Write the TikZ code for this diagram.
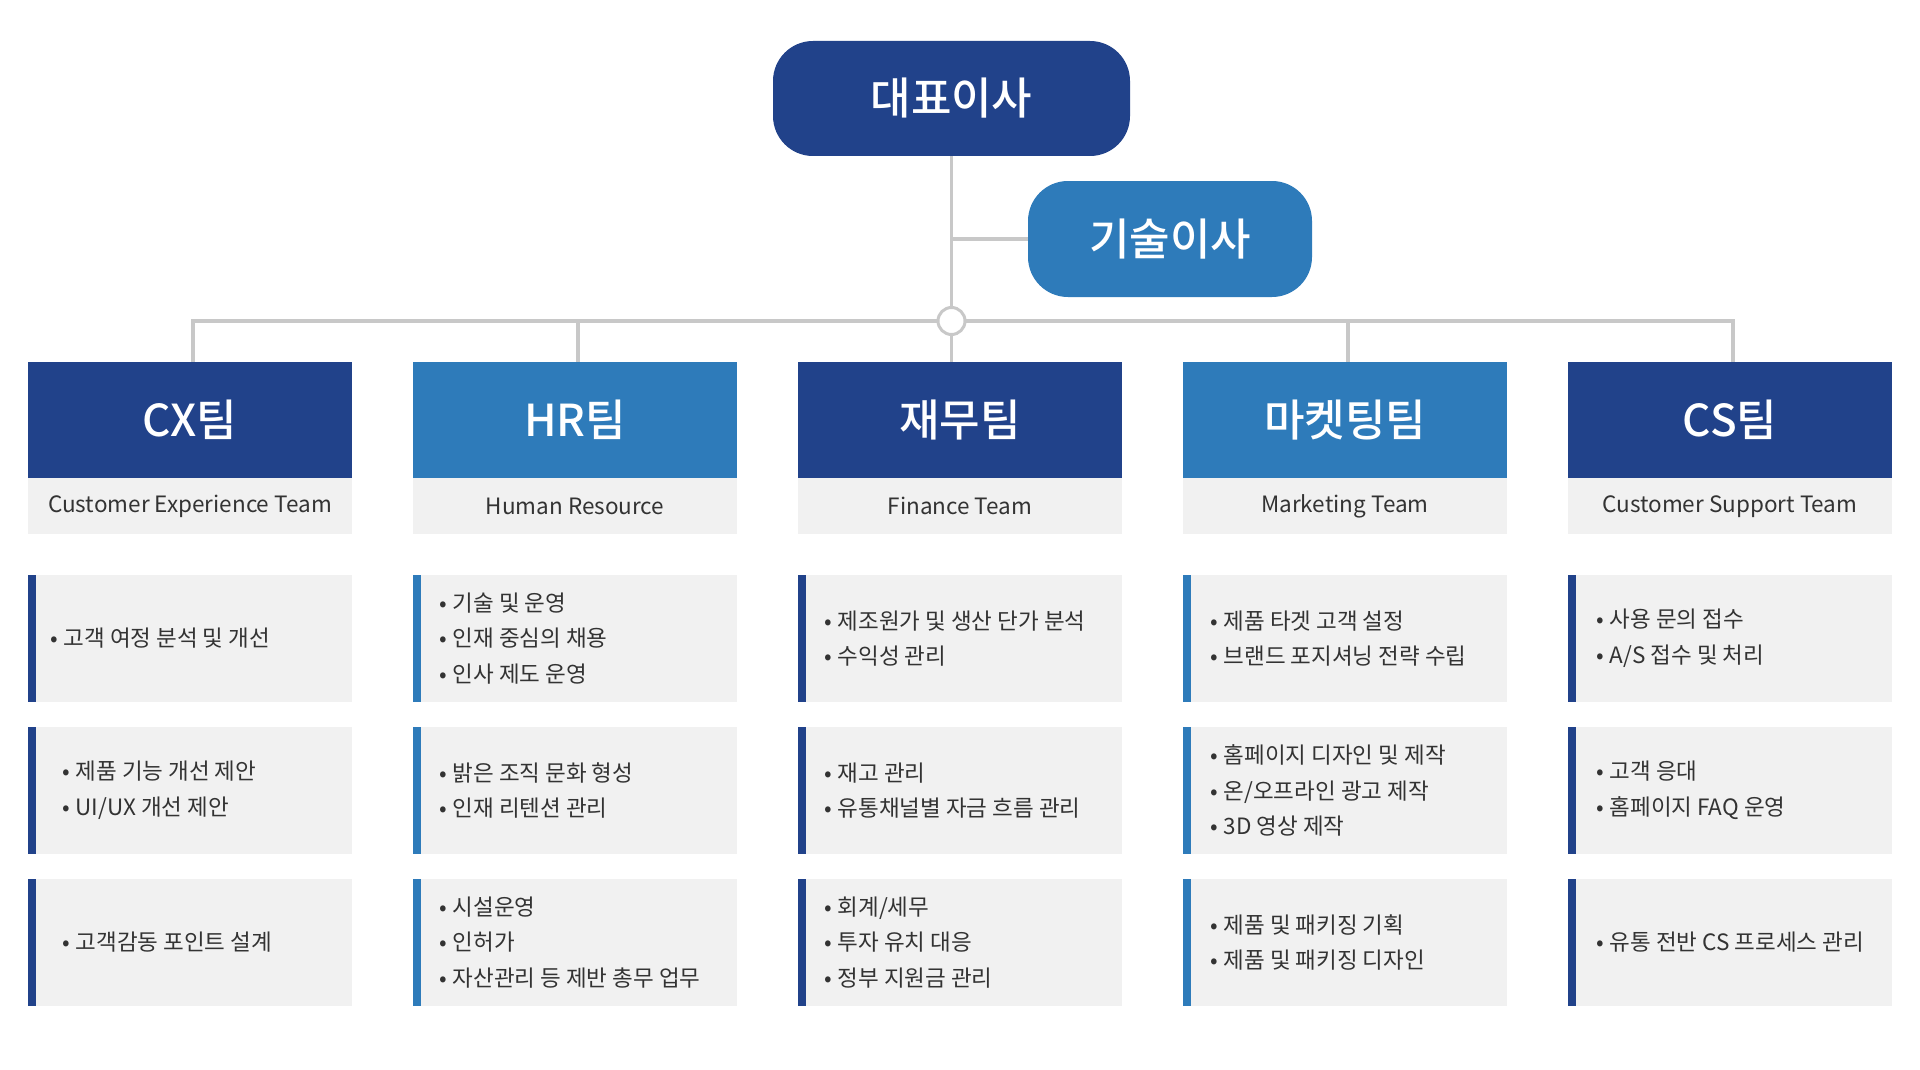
\documentclass[tikz,border=0pt]{standalone}
\usepackage{fontspec}
\setmainfont{Noto Sans CJK KR}
\newfontfamily\titlefont{Noto Sans CJK KR Medium}
\usepackage{xcolor}
\usepackage{tikz}
\definecolor{darkblue}{HTML}{21428A}
\definecolor{midblue}{HTML}{2E7BBA}
\definecolor{linegray}{HTML}{C8C8C8}
\definecolor{boxgray}{HTML}{F1F1F1}
\definecolor{textdark}{HTML}{333333}
\newcommand{\bul}{•\hspace{6pt}}
\tikzset{
head/.style={
  rectangle,
  rounded corners=40pt,
  inner sep=0pt,
  text=white,
  font=\titlefont\fontsize{44pt}{50pt}\selectfont
},
team/.style={
  rectangle,
  inner sep=0pt,
  minimum width=324pt,
  minimum height=116pt,
  text=white,
  font=\titlefont\fontsize{44pt}{50pt}\selectfont
},
teamsub/.style={
  rectangle,
  inner sep=0pt,
  fill=boxgray,
  minimum width=324pt,
  minimum height=56pt,
  text=textdark,
  font=\fontsize{22.5pt}{28pt}\selectfont
},
task/.style={rectangle, inner sep=0pt, fill=boxgray, minimum width=324pt, minimum height=127pt},
item/.style={
  anchor=west,
  inner sep=0pt,
  align=left,
  text=textdark,
  font=\fontsize{22.5pt}{35.7pt}\selectfont
},
link/.style={draw=linegray, line width=3.5pt},
hubdot/.style={circle, draw=linegray, line width=3pt, fill=white, minimum size=27pt, inner sep=0pt},
}

\begin{document}
\begin{tikzpicture}[x=1pt,y=-1pt]
\useasboundingbox (0,0) rectangle (1920,1070);
% the directors
\node[head, fill=darkblue, minimum width=357pt, minimum height=115pt] (ceo) at (951.5,98.5) {대표이사};
\node[head, fill=midblue, minimum width=284pt, minimum height=116pt] (cto) at (1170,239) {기술이사};
% the teams
\foreach \i/\tname/\tsub/\tcol in {
  1/CX팀/Customer Experience Team/darkblue,
  2/HR팀/Human Resource/midblue,
  3/재무팀/Finance Team/darkblue,
  4/마켓팅팀/Marketing Team/midblue,
  5/CS팀/Customer Support Team/darkblue}
{
  \node[team, fill=\tcol] (team-\i) at ({190+385*(\i-1)},420) {\tname};
  \node[teamsub, anchor=north] (sub-\i) at (team-\i.south) {\tsub};
}
% the task boxes
\foreach \i/\r/\tcol/\ind/\txt in {
  1/1/darkblue/22/{\bul 고객 여정 분석 및 개선},
  1/2/darkblue/34/{\bul 제품 기능 개선 제안\\\bul UI/UX 개선 제안},
  1/3/darkblue/34/{\bul 고객감동 포인트 설계},
  2/1/midblue/26/{\bul 기술 및 운영\\\bul 인재 중심의 채용\\\bul 인사 제도 운영},
  2/2/midblue/26/{\bul 밝은 조직 문화 형성\\\bul 인재 리텐션 관리},
  2/3/midblue/26/{\bul 시설운영\\\bul 인허가\\\bul 자산관리 등 제반 총무 업무},
  3/1/darkblue/26/{\bul 제조원가 및 생산 단가 분석\\\bul 수익성 관리},
  3/2/darkblue/26/{\bul 재고 관리\\\bul 유통채널별 자금 흐름 관리},
  3/3/darkblue/26/{\bul 회계/세무\\\bul 투자 유치 대응\\\bul 정부 지원금 관리},
  4/1/midblue/27/{\bul 제품 타겟 고객 설정\\\bul 브랜드 포지셔닝 전략 수립},
  4/2/midblue/27/{\bul 홈페이지 디자인 및 제작\\\bul 온/오프라인 광고 제작\\\bul 3D 영상 제작},
  4/3/midblue/27/{\bul 제품 및 패키징 기획\\\bul 제품 및 패키징 디자인},
  5/1/darkblue/28/{\bul 사용 문의 접수\\\bul A/S 접수 및 처리},
  5/2/darkblue/28/{\bul 고객 응대\\\bul 홈페이지 FAQ 운영},
  5/3/darkblue/28/{\bul 유통 전반 CS 프로세스 관리}}
{
  \node[task] (task-\i-\r) at ({190+385*(\i-1)},{638.5+152*(\r-1)}) {};
  \fill[\tcol] (task-\i-\r.north west) rectangle ([xshift=8pt]task-\i-\r.south west);
  \node[item] (item-\i-\r) at ([xshift=\ind pt]task-\i-\r.west) {\txt};
}
% the connectors
\coordinate (hub) at (ceo.south |- 0,321);
\draw[link] (ceo.south) -- (hub |- team-3.north);
\draw[link] (ceo.south |- cto.west) -- (cto.west);
\foreach \i in {1,2,4,5}
{
  \draw[link] ([xshift=3pt]team-\i.north) |- (hub);
}
\node[hubdot] (hubc) at (hub) {};
\end{tikzpicture}
\end{document}
